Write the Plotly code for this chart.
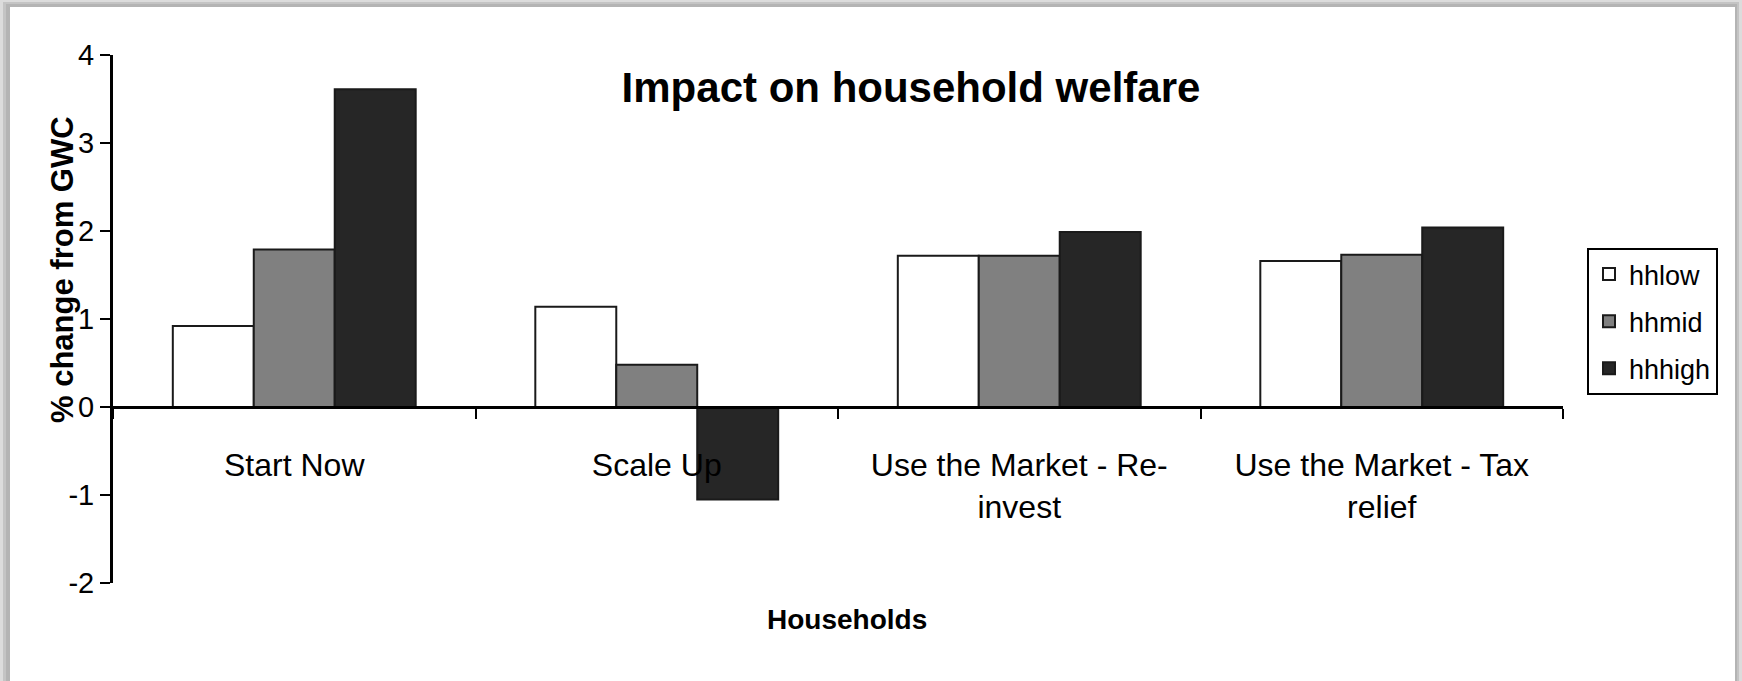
import plotly.graph_objects as go

# Household welfare impact by scenario (% change from GWC)
categories = ["Start Now", "Scale Up", "Use the Market - Re-invest", "Use the Market - Tax relief"]
tick_labels = ["Start Now", "Scale Up", "Use the Market - Re-<br>invest", "Use the Market - Tax<br>relief"]
hhlow = [0.92, 1.14, 1.72, 1.66]
hhmid = [1.79, 0.48, 1.72, 1.73]
hhhigh = [3.61, -1.05, 1.99, 2.04]
y_ticks = [-2, -1, 0, 1, 2, 3, 4]
y_tick_text = ["-2", "-1", "0", "1", "2", "3", "4"]

W, H = 1742, 681
L, R, T, B = 113, 179, 55, 98
PW, PH = W - L - R, H - T - B


def px_x(p):
    return (p - L) / PW


def px_y(p):
    return (H - B - p) / PH


FONT = "Liberation Sans, Arial, sans-serif"
outline = dict(color="#1a1a1a", width=2)

fig = go.Figure()
fig.add_trace(go.Bar(name="hhlow", x=categories, y=hhlow, legendgroup="low",
                     marker=dict(color="#ffffff", line=outline)))
fig.add_trace(go.Bar(name="hhmid", x=categories, y=hhmid, legendgroup="mid",
                     marker=dict(color="#808080", line=outline)))
fig.add_trace(go.Bar(name="hhhigh", x=categories, y=hhhigh, legendgroup="high",
                     marker=dict(color="#262626", line=outline)))

# y position of the zero line in paper units, used for the category axis
y_lo, y_hi = -2, 4
zero_pos = (0 - y_lo) / (y_hi - y_lo)

# card with a soft grey edge around it
shapes = [
    dict(type="rect", xref="paper", yref="paper", layer="below",
         x0=px_x(3), x1=px_x(1739), y0=px_y(H + 5), y1=px_y(2),
         fillcolor="#c4c4c4", line=dict(width=0)),
    dict(type="rect", xref="paper", yref="paper", layer="below",
         x0=px_x(6), x1=px_x(1737), y0=px_y(H + 5), y1=px_y(4),
         fillcolor="#b4b4b4", line=dict(width=0)),
    dict(type="rect", xref="paper", yref="paper", layer="below",
         x0=px_x(10), x1=px_x(1735), y0=px_y(H + 5), y1=px_y(7),
         fillcolor="#ffffff", line=dict(width=0)),
]

fig.update_layout(
    width=W, height=H,
    margin=dict(l=L, r=R, t=T, b=B, autoexpand=False),
    paper_bgcolor="#dcdcdc",
    plot_bgcolor="rgba(0,0,0,0)",
    barmode="group",
    bargap=0.33,
    bargroupgap=0,
    font=dict(family=FONT, color="#000000"),
    title=dict(text="<b>Impact on household welfare</b>",
               font=dict(size=42, family=FONT, color="#000000"),
               xref="container", yref="container",
               x=911 / W, y=1 - 87 / H, xanchor="center", yanchor="middle"),
    showlegend=True,
    legend=dict(x=px_x(1587), y=px_y(248), xanchor="left", yanchor="top",
                bgcolor="#ffffff", bordercolor="#000000", borderwidth=2,
                font=dict(size=27, family=FONT, color="#000000"),
                traceorder="grouped", tracegroupgap=9, itemwidth=30),
    shapes=shapes,
    xaxis=dict(
        type="category",
        tickmode="array", tickvals=categories, ticktext=tick_labels,
        anchor="free", position=zero_pos,
        showline=True, linecolor="#000000", linewidth=3,
        ticks="outside", tickson="boundaries", ticklen=10, tickwidth=2,
        tickcolor="#000000",
        tickfont=dict(size=32, family=FONT, color="#000000"),
        ticklabelstandoff=29,
        showgrid=False, zeroline=False,
        range=[-0.5, 3.5],
    ),
    yaxis=dict(
        range=[y_lo, y_hi],
        tickmode="array", tickvals=y_ticks, ticktext=y_tick_text,
        showline=True, linecolor="#000000", linewidth=3,
        ticks="outside", ticklen=10, tickwidth=2, tickcolor="#000000",
        tickfont=dict(size=29, family=FONT, color="#000000"),
        ticklabelstandoff=0,
        showgrid=False, zeroline=False,
    ),
    annotations=[
        dict(text="<b>% change from GWC</b>", textangle=-90,
             xref="paper", yref="paper", x=px_x(62), y=px_y(270),
             xanchor="center", yanchor="middle", showarrow=False,
             font=dict(size=31, family=FONT, color="#000000")),
        dict(text="<b>Households</b>",
             xref="paper", yref="paper", x=px_x(847), y=px_y(619),
             xanchor="center", yanchor="middle", showarrow=False,
             font=dict(size=28, family=FONT, color="#000000")),
    ],
)

fig.write_html("out.html")
